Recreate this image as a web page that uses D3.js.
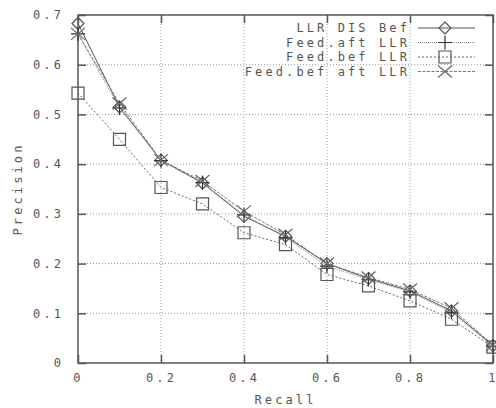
<!DOCTYPE html>
<meta charset="utf-8">
<style>
body { margin: 0; background: #fff; }
svg text { font-family: "DejaVu Sans Mono", monospace; font-size: 12px; fill: #555; letter-spacing: 3.1px; }
.grid line { stroke: #999; stroke-width: 1; stroke-dasharray: 1,2; }
.border { fill: none; stroke: #555; stroke-width: 1.5; }
.tick line { stroke: #555; stroke-width: 1.5; }
</style>
<svg width="496" height="408"></svg>
<script src="https://d3js.org/d3.v7.min.js"></script>
<script>
var recall = [0, 0.1, 0.2, 0.3, 0.4, 0.5, 0.6, 0.7, 0.8, 0.9, 1];
var llrDisBef   = [0.683, 0.515, 0.408, 0.362, 0.295, 0.255, 0.200, 0.170, 0.145, 0.105, 0.035];
var feedAftLlr  = [0.662, 0.513, 0.407, 0.363, 0.298, 0.252, 0.195, 0.168, 0.143, 0.102, 0.034];
var feedBefLlr  = [0.543, 0.450, 0.353, 0.320, 0.262, 0.238, 0.178, 0.155, 0.125, 0.088, 0.032];
var feedBefAft  = [0.662, 0.522, 0.408, 0.366, 0.305, 0.258, 0.200, 0.172, 0.148, 0.110, 0.036];
var xTicks = [0, 0.2, 0.4, 0.6, 0.8, 1];
var yTicks = [0, 0.1, 0.2, 0.3, 0.4, 0.5, 0.6, 0.7];

var series = [
  {name: "LLR DIS Bef", values: llrDisBef, marker: "diamond", dash: null, color: "#555", mcolor: "#555"},
  {name: "Feed.aft LLR", values: feedAftLlr, marker: "plus", dash: "1,1", color: "#888", mcolor: "#333"},
  {name: "Feed.bef LLR", values: feedBefLlr, marker: "square", dash: "2,2", color: "#666", mcolor: "#555"},
  {name: "Feed.bef aft LLR", values: feedBefAft, marker: "cross", dash: "3,1.5", color: "#777", mcolor: "#666"}
];

var svg = d3.select("svg"),
    pL = 78, pR = 493, pT = 15, pB = 363;

var x = d3.scaleLinear().domain([0, 1]).range([pL, pR]),
    y = d3.scaleLinear().domain([0, 0.7]).range([pB, pT]);

var fmt = function(d) { return d === 0 || d === 1 ? String(d) : d3.format(".1f")(d); };

// grid
var grid = svg.append("g").attr("class", "grid");
grid.selectAll(".gx").data(xTicks.slice(1, -1)).enter().append("line")
    .attr("x1", function(d) { return x(d); }).attr("x2", function(d) { return x(d); })
    .attr("y1", pT).attr("y2", pB);
grid.selectAll(".gy").data(yTicks.slice(1, -1)).enter().append("line")
    .attr("x1", pL).attr("x2", pR)
    .attr("y1", function(d) { return y(d); }).attr("y2", function(d) { return y(d); });

// axes with inward ticks, mirrored
svg.append("g").attr("transform", "translate(0," + pB + ")")
    .call(d3.axisBottom(x).tickValues(xTicks).tickFormat(fmt).tickSizeInner(-8).tickSizeOuter(0).tickPadding(10))
    .call(function(g) { g.select(".domain").remove(); });
svg.append("g").attr("transform", "translate(0," + pT + ")")
    .call(d3.axisTop(x).tickValues(xTicks).tickFormat("").tickSizeInner(-8).tickSizeOuter(0))
    .call(function(g) { g.select(".domain").remove(); });
svg.append("g").attr("transform", "translate(" + pL + ",0)")
    .call(d3.axisLeft(y).tickValues(yTicks).tickFormat(fmt).tickSizeInner(-8).tickSizeOuter(0).tickPadding(14))
    .call(function(g) { g.select(".domain").remove(); });
svg.append("g").attr("transform", "translate(" + pR + ",0)")
    .call(d3.axisRight(y).tickValues(yTicks).tickFormat("").tickSizeInner(-8).tickSizeOuter(0))
    .call(function(g) { g.select(".domain").remove(); });
svg.selectAll(".tick text").attr("fill", "#555")
    .style("font-family", "DejaVu Sans Mono, monospace").style("font-size", "12px");

svg.append("rect").attr("class", "border")
    .attr("x", pL).attr("y", pT).attr("width", pR - pL).attr("height", pB - pT);

// axis titles
svg.append("text").attr("x", (pL + pR) / 2).attr("y", 404)
    .attr("text-anchor", "middle").text("Recall");
svg.append("text").attr("transform", "translate(22," + ((pT + pB) / 2) + ") rotate(-90)")
    .attr("text-anchor", "middle").text("Precision");

function drawMarker(g, type, cx, cy, color) {
  var p;
  if (type === "diamond") {
    p = "M" + cx + "," + (cy - 6) + "L" + (cx + 6) + "," + cy + "L" + cx + "," + (cy + 6) + "L" + (cx - 6) + "," + cy + "Z";
  } else if (type === "plus") {
    p = "M" + (cx - 7) + "," + cy + "H" + (cx + 7) + "M" + cx + "," + (cy - 7) + "V" + (cy + 7);
  } else if (type === "square") {
    p = "M" + (cx - 6) + "," + (cy - 6) + "h12v12h-12Z";
  } else {
    p = "M" + (cx - 7) + "," + (cy - 6) + "L" + (cx + 7) + "," + (cy + 6) + "M" + (cx - 7) + "," + (cy + 6) + "L" + (cx + 7) + "," + (cy - 6);
  }
  g.append("path").attr("d", p).attr("fill", "none").attr("stroke", color).attr("stroke-width", 1.2);
}

var line = d3.line()
    .x(function(d, i) { return x(recall[i]); })
    .y(function(d) { return y(d); });

series.forEach(function(s, k) {
  var g = svg.append("g");
  g.append("path").datum(s.values)
      .attr("d", line)
      .attr("fill", "none")
      .attr("stroke", s.color)
      .attr("stroke-width", 1)
      .attr("stroke-dasharray", s.dash);
  s.values.forEach(function(v, i) { drawMarker(g, s.marker, x(recall[i]), y(v), s.mcolor); });

  // legend entry
  var ly = 28 + k * 14.5;
  svg.append("text").attr("x", 410).attr("y", ly).attr("dy", "0.35em")
      .attr("text-anchor", "end").text(s.name);
  g.append("line").attr("x1", 418).attr("x2", 475).attr("y1", ly).attr("y2", ly)
      .attr("stroke", s.color).attr("stroke-width", 1).attr("stroke-dasharray", s.dash);
  drawMarker(g, s.marker, 445, ly, s.mcolor);
});
</script>
